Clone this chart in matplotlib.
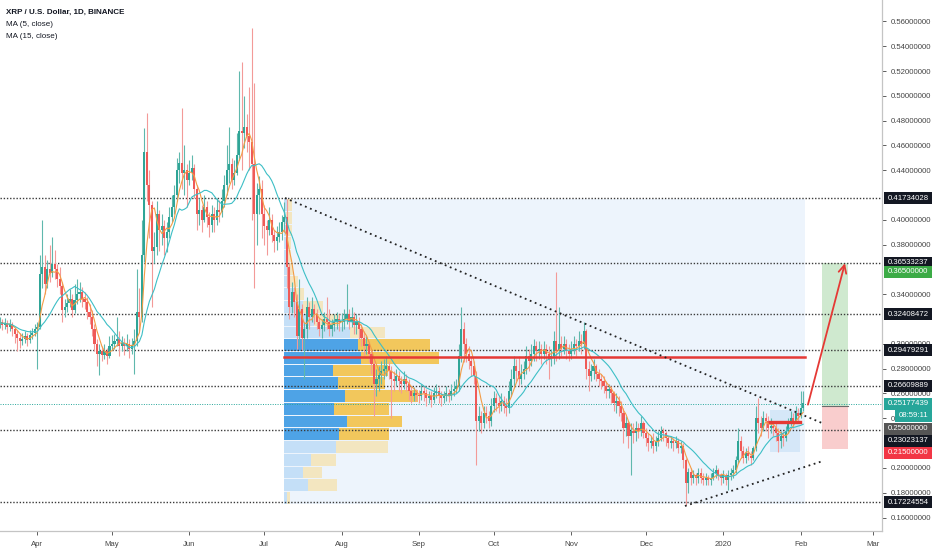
import numpy as np
import pandas as pd
import matplotlib
matplotlib.use("Agg")
import matplotlib.pyplot as plt
from matplotlib.patches import Rectangle
from matplotlib.collections import LineCollection, PolyCollection
import matplotlib.transforms as mtransforms

plt.rcParams['font.family'] = ['Liberation Sans', 'DejaVu Sans']

# ---------------- daily candles (close / high / low), open = previous close ----------------
close_mar19 = [.318,.315,.317,.314,.316,.312,.308,.305,.302,.304,.306,.303,.307,.309,.312]
high_mar19  = [.322,.320,.321,.319,.320,.318,.314,.311,.309,.309,.310,.309,.311,.313,.316]
low_mar19   = [.313,.311,.312,.309,.310,.306,.301,.294,.297,.299,.301,.298,.301,.304,.306]

close_apr19 = [.314,.356,.362,.348,.360,.357,.364,.360,.352,.347,.327,.330,.333,.336,.327,
               .335,.340,.342,.336,.334,.326,.322,.312,.300,.292,.294,.291,.294,.290,.298]
high_apr19  = [.318,.372,.400,.372,.368,.380,.386,.376,.364,.362,.350,.336,.340,.344,.340,
               .348,.352,.350,.346,.342,.338,.332,.327,.316,.304,.300,.298,.300,.297,.306]
low_apr19   = [.280,.312,.345,.340,.345,.350,.354,.352,.346,.340,.318,.322,.326,.330,.322,
               .325,.332,.334,.330,.328,.320,.316,.306,.294,.282,.275,.286,.288,.284,.289]

close_may19 = [.300,.302,.304,.298,.301,.298,.300,.296,.299,.302,.326,.322,.372,.455,.428,
               .412,.375,.378,.405,.392,.395,.385,.390,.402,.410,.420,.440,.446,.438,.440,.432]
high_may19  = [.307,.308,.322,.310,.306,.305,.308,.304,.305,.312,.360,.345,.400,.474,.486,
               .440,.415,.390,.415,.408,.405,.400,.398,.410,.420,.428,.450,.455,.490,.460,.445]
low_may19   = [.295,.296,.298,.290,.294,.291,.294,.289,.292,.276,.298,.310,.318,.366,.415,
               .385,.330,.365,.372,.375,.380,.372,.374,.385,.398,.405,.415,.430,.425,.420,.410]

close_jun19 = [.438,.442,.425,.405,.408,.400,.410,.402,.396,.405,.400,.408,.406,.415,.428,
               .440,.445,.432,.438,.452,.472,.470,.475,.468,.463,.445,.405,.420,.425,.405]
high_jun19  = [.448,.452,.445,.428,.418,.412,.420,.415,.406,.412,.410,.418,.416,.425,.436,
               .460,.475,.450,.448,.470,.520,.527,.500,.485,.507,.555,.510,.430,.435,.432]
low_jun19   = [.428,.432,.418,.392,.396,.390,.398,.394,.386,.390,.390,.396,.398,.402,.410,
               .420,.430,.425,.428,.436,.448,.440,.458,.455,.440,.400,.345,.380,.405,.385]

close_jul19 = [.395,.392,.400,.388,.383,.386,.390,.398,.402,.362,.330,.342,.334,.306,.328,
               .305,.312,.330,.322,.328,.324,.318,.312,.315,.320,.318,.312,.315,.318,.320,.318]
high_jul19  = [.412,.400,.410,.405,.392,.395,.398,.404,.414,.417,.365,.350,.346,.340,.352,
               .332,.318,.338,.334,.338,.332,.328,.322,.320,.326,.338,.328,.320,.324,.326,.324]
low_jul19   = [.380,.372,.388,.382,.374,.376,.382,.384,.390,.345,.320,.325,.322,.296,.298,
               .295,.272,.305,.312,.318,.316,.312,.306,.305,.310,.312,.306,.306,.310,.312,.310]

close_aug19 = [.318,.320,.324,.318,.322,.315,.318,.312,.305,.298,.300,.292,.284,.268,.272,
               .275,.278,.280,.282,.278,.272,.270,.274,.270,.268,.272,.268,.262,.258,.260,.259]
high_aug19  = [.325,.328,.348,.328,.330,.326,.324,.322,.316,.310,.306,.302,.296,.288,.280,
               .282,.286,.288,.290,.286,.282,.278,.280,.278,.274,.278,.276,.272,.266,.265,.264]
low_aug19   = [.310,.312,.316,.312,.314,.308,.308,.304,.298,.290,.292,.285,.276,.242,.258,
               .262,.268,.272,.274,.272,.240,.262,.266,.262,.260,.264,.262,.255,.252,.254,.254]

close_sep19 = [.258,.262,.260,.256,.258,.255,.260,.262,.258,.256,.258,.260,.258,.262,.264,
               .266,.290,.312,.300,.292,.286,.282,.274,.238,.242,.236,.244,.242,.238,.250]
high_sep19  = [.263,.268,.266,.264,.262,.262,.265,.268,.265,.262,.262,.266,.264,.268,.270,
               .272,.300,.330,.318,.305,.298,.290,.286,.278,.250,.246,.250,.250,.246,.256]
low_sep19   = [.252,.255,.254,.250,.252,.249,.252,.256,.252,.250,.252,.254,.253,.255,.258,
               .260,.262,.285,.285,.285,.280,.274,.268,.202,.230,.228,.232,.236,.232,.234]

close_oct19 = [.256,.252,.250,.254,.250,.248,.262,.272,.282,.278,.272,.276,.280,.290,.286,
               .292,.298,.294,.296,.292,.296,.292,.288,.290,.302,.294,.300,.296,.300,.294,.292]
high_oct19  = [.262,.260,.258,.260,.258,.256,.270,.280,.290,.288,.290,.284,.286,.298,.296,
               .300,.304,.302,.302,.300,.302,.300,.298,.296,.310,.358,.330,.306,.306,.304,.300]
low_oct19   = [.245,.246,.244,.246,.244,.242,.244,.258,.266,.270,.266,.268,.272,.276,.278,
               .282,.286,.286,.288,.284,.288,.284,.272,.282,.284,.286,.288,.290,.292,.288,.286]

close_nov19 = [.296,.300,.298,.302,.300,.310,.280,.274,.278,.282,.276,.272,.270,.266,.262,
               .264,.260,.252,.254,.250,.244,.232,.236,.226,.230,.228,.232,.230,.236,.228]
high_nov19  = [.302,.306,.304,.310,.308,.318,.312,.286,.284,.288,.284,.280,.276,.274,.270,
               .268,.266,.262,.260,.258,.254,.248,.242,.238,.236,.236,.238,.236,.242,.238]
low_nov19   = [.288,.292,.290,.294,.292,.296,.272,.262,.270,.272,.270,.266,.264,.260,.256,
               .256,.252,.246,.244,.242,.238,.220,.226,.216,.194,.220,.222,.224,.226,.224]

close_dec19 = [.224,.220,.222,.218,.222,.224,.230,.228,.224,.220,.222,.220,.222,.216,.218,
               .206,.188,.197,.192,.194,.192,.196,.192,.190,.192,.190,.192,.196,.198,.194,.192]
high_dec19  = [.232,.228,.226,.228,.226,.230,.234,.232,.230,.226,.226,.224,.226,.224,.222,
               .220,.208,.200,.200,.198,.196,.200,.200,.196,.196,.194,.196,.200,.202,.200,.196]
low_dec19   = [.218,.214,.216,.212,.214,.218,.222,.222,.218,.216,.216,.214,.216,.212,.212,
               .200,.170,.180,.186,.188,.186,.188,.188,.186,.186,.186,.186,.190,.192,.190,.186]

close_jan20 = [.194,.190,.194,.196,.198,.206,.222,.214,.208,.212,.210,.208,.216,.240,.236,
               .232,.240,.238,.232,.234,.232,.228,.222,.226,.224,.230,.236,.240,.238,.244,.242]
high_jan20  = [.198,.196,.198,.200,.202,.210,.232,.226,.218,.216,.218,.214,.218,.250,.256,
               .242,.246,.244,.242,.240,.238,.236,.232,.230,.230,.234,.240,.246,.244,.250,.248]
low_jan20   = [.188,.186,.182,.190,.192,.196,.204,.208,.204,.204,.206,.202,.206,.214,.228,
               .226,.230,.230,.224,.228,.226,.222,.213,.216,.218,.222,.228,.234,.232,.236,.236]

close_feb20 = [.248,.252]
high_feb20  = [.262,.262]
low_feb20   = [.240,.246]

month_starts = ['2019-03-17','2019-04-01','2019-05-01','2019-06-01','2019-07-01','2019-08-01',
                '2019-09-01','2019-10-01','2019-11-01','2019-12-01','2020-01-01','2020-02-01']
month_closes = [close_mar19, close_apr19, close_may19, close_jun19, close_jul19, close_aug19,
                close_sep19, close_oct19, close_nov19, close_dec19, close_jan20, close_feb20]
month_highs = [high_mar19, high_apr19, high_may19, high_jun19, high_jul19, high_aug19,
               high_sep19, high_oct19, high_nov19, high_dec19, high_jan20, high_feb20]
month_lows = [low_mar19, low_apr19, low_may19, low_jun19, low_jul19, low_aug19,
              low_sep19, low_oct19, low_nov19, low_dec19, low_jan20, low_feb20]
first_open = 0.317

# volume profile rows (bottom -> top), lengths in chart units
vp_low, vp_high = 0.1707, 0.4170
vp_up   = [3, 24, 19, 27, 52, 55, 63, 50, 61, 54, 49, 77, 74, 66, 30, 19, 10, 6, 4, 3, 3, 2, 2, 3]
vp_down = [3, 29, 19, 25, 52, 50, 55, 55, 73, 47, 55, 78, 72, 35, 25, 20, 10, 8, 5, 4, 4, 6, 6, 5]
vp_value_area = (5, 12)
poc_price = 0.2895

# drawn levels
h_levels = [0.41734028, 0.36533237, 0.32408472, 0.29479291, 0.26609889, 0.23023137, 0.17224554]
last_price = 0.25177439
entry, target, stop = 0.250, 0.365, 0.215

price_ticks = [0.16, 0.18, 0.20, 0.24, 0.26, 0.28, 0.30, 0.34, 0.38, 0.40,
               0.44, 0.46, 0.48, 0.50, 0.52, 0.54, 0.56]
month_ticks = ['2019-04-01','2019-05-01','2019-06-01','2019-07-01','2019-08-01','2019-09-01',
               '2019-10-01','2019-11-01','2019-12-01','2020-01-01','2020-02-01','2020-03-01']
month_labels = ['Apr','May','Jun','Jul','Aug','Sep','Oct','Nov','Dec','2020','Feb','Mar']

# ---------------- assemble ----------------
base = pd.Timestamp('2019-04-01')
def dnum(s):
    return (pd.Timestamp(s) - base).days

days, C, H, L = [], [], [], []
for st, cc, hh, ll in zip(month_starts, month_closes, month_highs, month_lows):
    assert len(cc) == len(hh) == len(ll), st
    d0 = dnum(st)
    for i in range(len(cc)):
        days.append(d0 + i); C.append(cc[i]); H.append(hh[i]); L.append(ll[i])
days = np.array(days, float); C = np.array(C); H = np.array(H); L = np.array(L)
O = np.concatenate([[first_open], C[:-1]])
H = np.maximum(H, np.maximum(O, C)); L = np.minimum(L, np.minimum(O, C))

W, Hpx = 932, 550
fig = plt.figure(figsize=(W/100, Hpx/100), dpi=100)
ax_right = 882
ax_bottom = 531
ax = fig.add_axes([0, 1 - ax_bottom/Hpx, ax_right/W, ax_bottom/Hpx])
ax.set_xlim(-14.87, 338.6)
ax.set_ylim(0.14913, 0.57725)
ax.set_facecolor('white')

px_per_day = 2.4955
px_per_price = 1240.3

def px2d(x):
    return (x - 37.1) / px_per_day
def py2p(y):
    return 0.56 - (y - 21.4) / px_per_price

# background range box
vp_d0 = px2d(284)
vp_d1 = px2d(805)
ax.add_patch(Rectangle((vp_d0, vp_low), vp_d1 - vp_d0, vp_high - vp_low,
                       facecolor='#edf4fc', edgecolor='none', zorder=0.5))

# volume profile
nrows = len(vp_up)
rh = (vp_high - vp_low) / nrows
gap = 1.0 / px_per_price
for k in range(nrows):
    y0 = vp_low + k * rh + gap * 0.5
    strong = vp_value_area[0] <= k <= vp_value_area[1]
    cb = '#4ea3e6' if strong else '#c4dff7'
    cy = '#f2c75c' if strong else '#f3e6c0'
    wu = vp_up[k] / px_per_day
    wd = vp_down[k] / px_per_day
    ax.add_patch(Rectangle((vp_d0, y0), wu, rh - gap, facecolor=cb, edgecolor='none', zorder=1))
    ax.add_patch(Rectangle((vp_d0 + wu, y0), wd, rh - gap, facecolor=cy, edgecolor='none', zorder=1))

# small box near the end
sb0 = px2d(770)
sb1 = px2d(800)
ax.add_patch(Rectangle((sb0, 0.2129), sb1 - sb0, 0.2467 - 0.2129, facecolor='#cfe4f7',
                       edgecolor='none', alpha=0.8, zorder=1.2))

# horizontal dotted levels
for lv in h_levels:
    ax.axhline(lv, color='#3a3a3a', lw=1.0, ls=(0, (1, 1.3)), zorder=2)
ax.axhline(last_price, color='#26a69a', lw=0.7, ls=(0, (1, 1.5)), zorder=2)

# position tool
p0 = px2d(822)
p1 = px2d(848)
ax.add_patch(Rectangle((p0, entry), p1 - p0, target - entry, facecolor='#cfe9cf', edgecolor='none', zorder=1.5))
ax.add_patch(Rectangle((p0, stop), p1 - p0, entry - stop, facecolor='#f9cdcd', edgecolor='none', zorder=1.5))
ax.plot([p0, p1], [entry, entry], color='#6b6b6b', lw=0.8, zorder=1.6)

# candles
up = C >= O
col_up, col_dn = '#2fa597', '#ef5a57'
wcols = [('#5fb8ad' if u else '#f39a98') for u in up]
wicks = [[(d, l), (d, h)] for d, l, h in zip(days, L, H)]
ax.add_collection(LineCollection(wicks, colors=wcols, linewidths=0.8, zorder=3))
bw = 0.42
minh = 0.8 / px_per_price
bodies, bcols = [], []
for d, o, c, u in zip(days, O, C, up):
    lo, hi = min(o, c), max(o, c)
    if hi - lo < minh:
        hi = lo + minh
    bodies.append([(d - bw, lo), (d + bw, lo), (d + bw, hi), (d - bw, hi)])
    bcols.append(col_up if u else col_dn)
ax.add_collection(PolyCollection(bodies, facecolors=bcols, edgecolors='none', zorder=3.1))

# moving averages
cs = pd.Series(C)
ma5 = cs.rolling(5, min_periods=1).mean()
ma15 = cs.rolling(15, min_periods=1).mean()
ax.plot(days, ma5, color='#f39c45', lw=0.8, zorder=4)
ax.plot(days, ma15, color='#3dbfc6', lw=0.8, zorder=4)

# POC lines
ax.plot([vp_d0, vp_d1], [poc_price, poc_price], color='#e53935', lw=1.8, zorder=4.5)
ax.plot([sb0, sb1], [0.2368, 0.2368], color='#e53935', lw=2.4, zorder=4.5)

# trend lines
ax.plot([px2d(285), px2d(822)], [py2p(198), py2p(423)], color='#222222', lw=1.3,
        ls=(0, (1, 2)), zorder=5)
ax.plot([px2d(685), px2d(823)], [py2p(506), py2p(461)], color='#222222', lw=1.3,
        ls=(0, (1, 2)), zorder=5)

# arrow
ax.annotate('', xy=(px2d(845), target), xytext=(px2d(808), 0.251),
            arrowprops=dict(arrowstyle='->', color='#e53935', lw=1.3, mutation_scale=14,
                            shrinkA=0, shrinkB=0), zorder=6)

# axes styling
for s in ['top', 'left']:
    ax.spines[s].set_visible(False)
for s in ['right', 'bottom']:
    ax.spines[s].set_color('#c4c4c4'); ax.spines[s].set_linewidth(0.9)
ax.yaxis.tick_right()
ax.set_yticks(price_ticks)
ax.set_yticklabels([f'{v:.8f}' for v in price_ticks])
ax.tick_params(axis='y', labelsize=5.6, colors='#444444', length=3, width=0.6, pad=3)
ax.set_xticks([dnum(t) for t in month_ticks])
ax.set_xticklabels(month_labels)
ax.tick_params(axis='x', labelsize=5.6, colors='#444444', length=3, width=0.6, pad=4)

# right-axis price boxes
tr = mtransforms.blended_transform_factory(fig.transFigure, ax.transData)
boxh = 12 / px_per_price
def price_box(p_center, text, fc, x0=884):
    fig.patches.append(Rectangle((x0 / W, p_center - boxh / 2), (W - x0) / W, boxh,
                                 transform=tr, facecolor=fc, edgecolor='none', zorder=5))
    fig.text((x0 + 4) / W, p_center, text, transform=tr, color='white', fontsize=5.6,
             va='center', ha='left', zorder=6)

price_box(0.41734028, '0.41734028', '#131722')
price_box(0.36533237, '0.36533237', '#131722')
price_box(py2p(272), '0.36500000', '#3cab46')
price_box(0.32408472, '0.32408472', '#131722')
price_box(0.29479291, '0.29479291', '#131722')
price_box(0.26609889, '0.26609889', '#131722')
price_box(last_price, '0.25177439', '#26a69a')
price_box(py2p(416), '08:59:11', '#26a69a', x0=895)
price_box(py2p(428.7), '0.25000000', '#555555')
price_box(py2p(440.7), '0.23023137', '#131722')
price_box(py2p(452.7), '0.21500000', '#f23645')
price_box(0.17224554, '0.17224554', '#131722')

# legend texts
fig.text(6 / W, 1 - 12 / Hpx, 'XRP / U.S. Dollar, 1D, BINANCE', fontsize=5.8, weight='bold',
         color='#131722', va='center', ha='left')
fig.text(6 / W, 1 - 24 / Hpx, 'MA (5, close)', fontsize=5.8, color='#131722', va='center', ha='left')
fig.text(6 / W, 1 - 36 / Hpx, 'MA (15, close)', fontsize=5.8, color='#131722', va='center', ha='left')

fig.savefig('out.png', dpi=100, facecolor='white')
